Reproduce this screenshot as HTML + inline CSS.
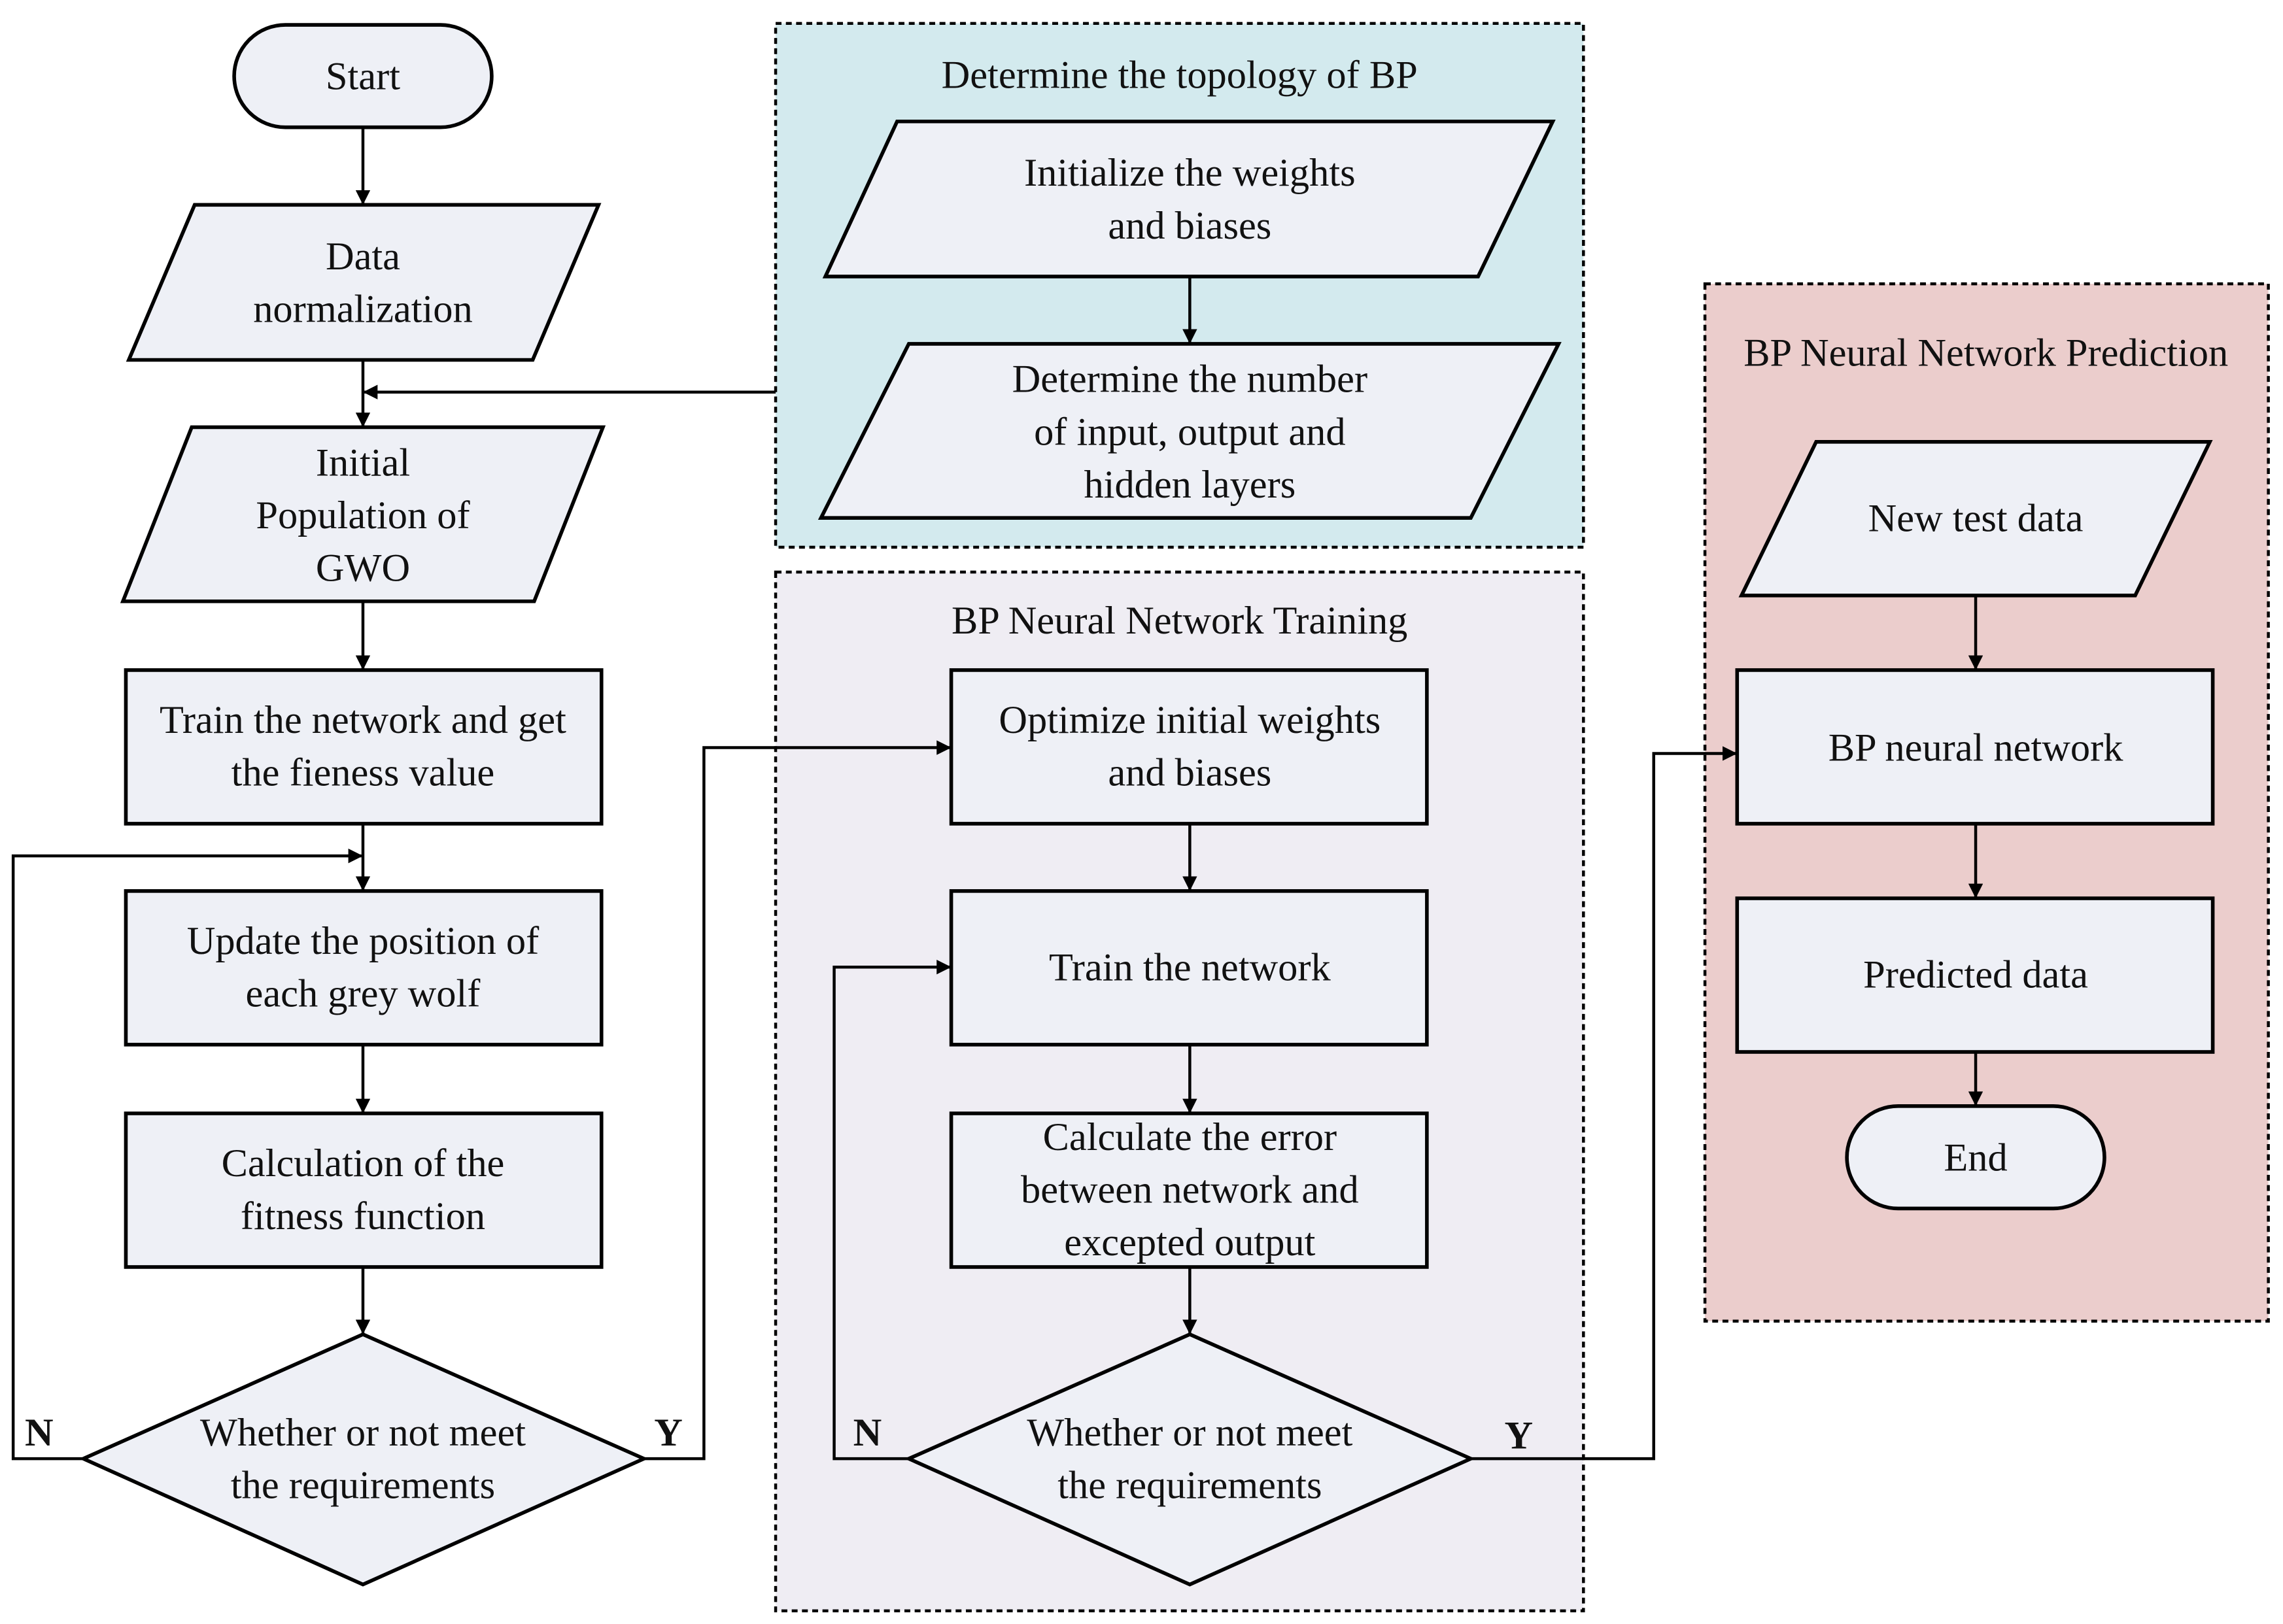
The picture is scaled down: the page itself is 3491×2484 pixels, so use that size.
<!DOCTYPE html>
<html><head><style>html,body{margin:0;padding:0;background:#fff}svg{display:block}</style></head><body>
<svg width="3491" height="2484" viewBox="0 0 1560 1110" preserveAspectRatio="none" xmlns="http://www.w3.org/2000/svg">
<defs><marker id="a" markerWidth="10" markerHeight="10" refX="9" refY="5" orient="auto" markerUnits="userSpaceOnUse"><path d="M0,0 L10,5 L0,10 z" fill="#000"/></marker></defs>
<rect width="1560" height="1110" fill="#fff"/>
<g stroke="#000" stroke-width="2" stroke-dasharray="4,3">
<rect x="530" y="16" width="552" height="358" fill="#d3eaee"/>
<rect x="530" y="391" width="552" height="710" fill="#efedf3"/>
<rect x="1165" y="194" width="385" height="709" fill="#ebcdcc"/>
</g>
<g fill="#eef0f6" stroke="#000" stroke-width="2.5">
<rect x="160" y="17" width="176" height="70" rx="35"/>
<polygon points="133,140 409,140 364,246 88,246"/>
<polygon points="131,292 412,292 365,411 84,411"/>
<rect x="86" y="458" width="325" height="105"/>
<rect x="86" y="609" width="325" height="105"/>
<rect x="86" y="761" width="325" height="105"/>
<polygon points="248,912 440,997 248,1083 57,997"/>
<polygon points="613,83 1061,83 1010,189 564,189"/>
<polygon points="621,235 1065,235 1005,354 561,354"/>
<rect x="650" y="458" width="325" height="105"/>
<rect x="650" y="609" width="325" height="105"/>
<rect x="650" y="761" width="325" height="105"/>
<polygon points="813,912 1005,997 813,1083 621,997"/>
<polygon points="1241,302 1510,302 1459,407 1190,407"/>
<rect x="1187" y="458" width="325" height="105"/>
<rect x="1187" y="614" width="325" height="105"/>
<rect x="1262" y="756" width="176" height="70" rx="35"/>
</g>
<g stroke="#000" stroke-width="2" fill="none" marker-end="url(#a)">
<line x1="248" y1="87" x2="248" y2="139"/>
<line x1="248" y1="246" x2="248" y2="291"/>
<line x1="248" y1="411" x2="248" y2="457"/>
<line x1="248" y1="563" x2="248" y2="608"/>
<line x1="248" y1="714" x2="248" y2="760"/>
<line x1="248" y1="866" x2="248" y2="911"/>
<line x1="530" y1="268" x2="249" y2="268"/>
<polyline points="57,997 9,997 9,585 247,585"/>
<polyline points="440,997 481,997 481,511 649,511"/>
<line x1="813" y1="189" x2="813" y2="234"/>
<line x1="813" y1="563" x2="813" y2="608"/>
<line x1="813" y1="714" x2="813" y2="760"/>
<line x1="813" y1="866" x2="813" y2="911"/>
<polyline points="621,997 570,997 570,661 649,661"/>
<polyline points="1005,997 1130,997 1130,515 1186,515"/>
<line x1="1350" y1="407" x2="1350" y2="457"/>
<line x1="1350" y1="563" x2="1350" y2="613"/>
<line x1="1350" y1="719" x2="1350" y2="755"/>
</g>
<g font-family="'Liberation Serif',serif" font-size="27" text-anchor="middle" fill="#111">
<text x="248" y="61">Start</text>
<text x="248" y="184">Data</text><text x="248" y="220">normalization</text>
<text x="248" y="325">Initial</text><text x="248" y="361">Population of</text><text x="248" y="397">GWO</text>
<text x="248" y="501">Train the network and get</text><text x="248" y="537">the fieness value</text>
<text x="248" y="652">Update the position of</text><text x="248" y="688">each grey wolf</text>
<text x="248" y="804">Calculation of the</text><text x="248" y="840">fitness function</text>
<text x="248" y="988">Whether or not meet</text><text x="248" y="1024">the requirements</text>
<text x="806" y="60">Determine the topology of BP</text>
<text x="813" y="127">Initialize the weights</text><text x="813" y="163">and biases</text>
<text x="813" y="268">Determine the number</text><text x="813" y="304">of input, output and</text><text x="813" y="340">hidden layers</text>
<text x="806" y="433">BP Neural Network Training</text>
<text x="813" y="501">Optimize initial weights</text><text x="813" y="537">and biases</text>
<text x="813" y="670">Train the network</text>
<text x="813" y="786">Calculate the error</text><text x="813" y="822">between network and</text><text x="813" y="858">excepted output</text>
<text x="813" y="988">Whether or not meet</text><text x="813" y="1024">the requirements</text>
<text x="1357" y="250">BP Neural Network Prediction</text>
<text x="1350" y="363">New test data</text>
<text x="1350" y="520">BP neural network</text>
<text x="1350" y="675">Predicted data</text>
<text x="1350" y="800">End</text>
</g>
<g font-family="'Liberation Serif',serif" font-size="27" font-weight="bold" fill="#111">
<text x="17" y="988">N</text><text x="447" y="988">Y</text>
<text x="583" y="988">N</text><text x="1028" y="990">Y</text>
</g>
</svg>
</body></html>
